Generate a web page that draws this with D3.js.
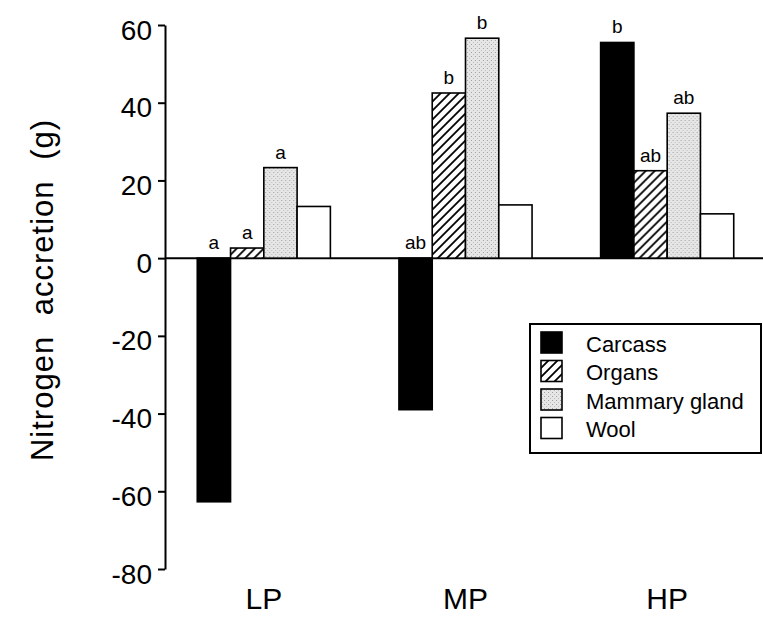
<!DOCTYPE html>
<html>
<head>
<meta charset="utf-8">
<script src="https://cdn.jsdelivr.net/npm/d3@7"></script>
<style>
  html, body { margin: 0; padding: 0; background: #fff; }
  svg { display: block; }
  text { font-family: "Liberation Sans", Arial, Helvetica, sans-serif; fill: #000; }
</style>
</head>
<body>
<svg id="chart" width="763" height="617"></svg>
<script>
// ---- data ----
const categories = ["LP", "MP", "HP"];
const seriesNames = ["Carcass", "Organs", "Mammary gland", "Wool"];
const carcass = [-62.7, -39.0, 55.5];
const organs = [2.6, 42.5, 22.5];
const mammary = [23.3, 56.6, 37.3];
const wool = [13.3, 13.7, 11.4];
const sigCarcass = ["a", "ab", "b"];
const sigOrgans = ["a", "b", "ab"];
const sigMammary = ["a", "b", "ab"];
const sigWool = ["", "", ""];
const yTicks = [-80, -60, -40, -20, 0, 20, 40, 60];
const yTitle = "Nitrogen accretion (g)";

const seriesValues = [carcass, organs, mammary, wool];
const seriesSig = [sigCarcass, sigOrgans, sigMammary, sigWool];
const fills = ["#000", "url(#hatch)", "url(#stipple)", "#fff"];

const svg = d3.select("#chart");

// ---- patterns ----
const defs = svg.append("defs");
const hatch = defs.append("pattern").attr("id", "hatch")
  .attr("patternUnits", "userSpaceOnUse").attr("width", 9).attr("height", 9);
hatch.append("rect").attr("width", 9).attr("height", 9).attr("fill", "#fff");
hatch.append("path").attr("d", "M-2,2 L2,-2 M0,9 L9,0 M7,11 L11,7")
  .attr("stroke", "#000").attr("stroke-width", 1.8);

const stip = defs.append("pattern").attr("id", "stipple")
  .attr("patternUnits", "userSpaceOnUse").attr("width", 4).attr("height", 4);
stip.append("rect").attr("width", 4).attr("height", 4).attr("fill", "#e6e6e6");
stip.append("rect").attr("x", 0).attr("y", 0).attr("width", 1).attr("height", 1).attr("fill", "#a0a0a0");
stip.append("rect").attr("x", 2).attr("y", 2).attr("width", 1).attr("height", 1).attr("fill", "#bdbdbd");

// ---- scales ----
const y = d3.scaleLinear().domain([-80, 60]).range([569, 25]);
const x0 = d3.scaleBand().domain(categories).range([165, 766])
  .paddingInner(0.34).paddingOuter(0.16);
const x1 = d3.scaleBand().domain(seriesNames).range([0, x0.bandwidth()]).padding(0);

// ---- y axis ----
const yAxis = d3.axisLeft(y).tickValues(yTicks).tickSize(7).tickSizeOuter(0)
  .tickFormat(d => String(d));
const gy = svg.append("g").attr("transform", "translate(165,0)").call(yAxis);
gy.select(".domain").attr("stroke", "#000").attr("stroke-width", 2);
gy.selectAll(".tick line").attr("stroke", "#000").attr("stroke-width", 2);
gy.selectAll(".tick text")
  .attr("x", -13).attr("dy", "0.5em")
  .style("font-size", "28px")
  .style("font-family", "'Liberation Sans', Arial, Helvetica, sans-serif")
  .attr("fill", "#000");

// y title
svg.append("text")
  .attr("transform", "translate(53,290) rotate(-90)")
  .attr("text-anchor", "middle")
  .style("font-size", "31px")
  .style("letter-spacing", "1px")
  .style("word-spacing", "11px")
  .text(yTitle);

// ---- zero line ----
svg.append("line")
  .attr("x1", 165).attr("x2", 763)
  .attr("y1", y(0)).attr("y2", y(0))
  .attr("stroke", "#000").attr("stroke-width", 2);

// ---- bars ----
const groups = svg.append("g").selectAll("g").data(categories).join("g")
  .attr("transform", d => `translate(${x0(d)},0)`);

groups.each(function (cat, ci) {
  const g = d3.select(this);
  seriesNames.forEach((s, si) => {
    const v = seriesValues[si][ci];
    g.append("rect")
      .attr("x", x1(s))
      .attr("width", x1.bandwidth())
      .attr("y", Math.min(y(v), y(0)))
      .attr("height", Math.abs(y(v) - y(0)))
      .attr("fill", fills[si])
      .attr("stroke", "#000")
      .attr("stroke-width", 1.6);
    const lab = seriesSig[si][ci];
    if (lab) {
      g.append("text")
        .attr("x", x1(s) + x1.bandwidth() / 2)
        .attr("y", Math.min(y(v), y(0)) - 9)
        .attr("text-anchor", "middle")
        .style("font-size", "19px")
        .text(lab);
    }
  });
});

// ---- category labels ----
svg.append("g").selectAll("text").data(categories).join("text")
  .attr("x", d => x0(d) + x0.bandwidth() / 2)
  .attr("y", 609)
  .attr("text-anchor", "middle")
  .style("font-size", "30px")
  .text(d => d);

// ---- legend ----
const lg = svg.append("g");
lg.append("rect").attr("x", 530).attr("y", 324).attr("width", 231).attr("height", 129)
  .attr("fill", "#fff").attr("stroke", "#000").attr("stroke-width", 2);
seriesNames.forEach((s, i) => {
  lg.append("rect")
    .attr("x", 541).attr("y", 332 + i * 28.5)
    .attr("width", 21).attr("height", 21)
    .attr("fill", fills[i]).attr("stroke", "#000").attr("stroke-width", 1.6);
  lg.append("text")
    .attr("x", 586).attr("y", 351.5 + i * 28.5)
    .style("font-size", "22px")
    .text(s);
});
</script>
</body>
</html>
